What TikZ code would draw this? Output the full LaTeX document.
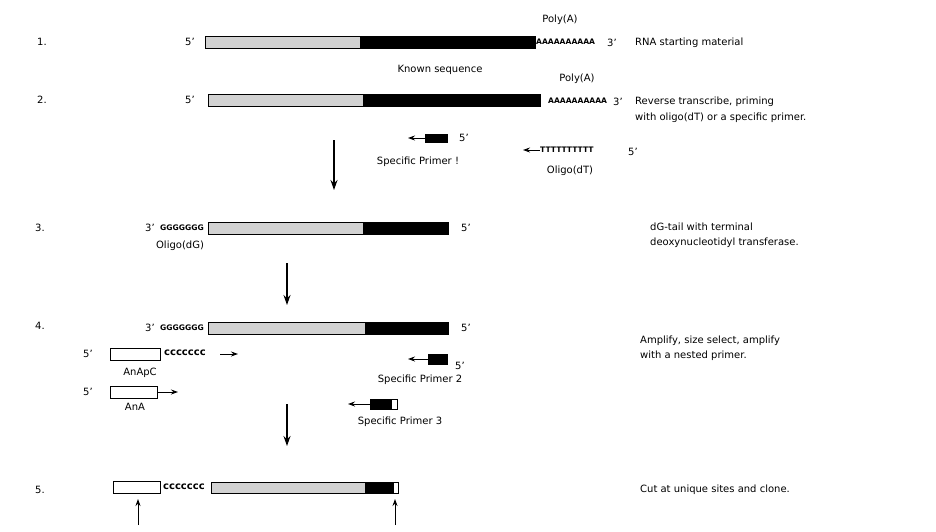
\documentclass[tikz,border=0pt]{standalone}
\usepackage{fontspec}
\setmainfont{DejaVu Sans}
\usetikzlibrary{arrows.meta}
\begin{document}
\begin{tikzpicture}[x=1pt,y=-1pt,
  t/.style={font=\fontsize{10}{12}\selectfont,inner sep=0pt},
  tl/.style={t,anchor=west},
  seq/.style={font=\fontsize{7.6}{9}\selectfont\bfseries,inner sep=0pt,anchor=west},
  cs/.style={font=\fontsize{10}{11}\selectfont\bfseries,inner sep=0pt,anchor=west},
  gr/.style={draw=black,fill=gray!35,line width=0.6pt},
  bk/.style={draw=black,fill=black},
  wh/.style={draw=black,fill=white,line width=0.7pt},
  arr/.style={-{Stealth[length=7pt,width=5pt]},line width=0.9pt},
  big/.style={-{Stealth[length=10pt,width=7pt]},line width=1.2pt}]
\useasboundingbox (0,0) rectangle (936,532);
% Row 1
\node[t] (n1) at (42,42) {1.};
\node[t] (p1) at (190,42) {5'};
\path[gr] (205,36) rectangle (360,48); \path[bk] (360,36) rectangle (535,48);
\node[seq] (a1) at (536,42) {AAAAAAAAAA};
\node[t] (q1) at (612,43) {3'};
\node[t] (pa1) at (560,20) {Poly(A)};
\node[t] (ks) at (440,70) {Known sequence};
\node[tl] (r1) at (635,43) {RNA starting material};
% Row 2
\node[t] (n2) at (42,100) {2.};
\node[t] (p2) at (190,100) {5'};
\path[gr] (208,94) rectangle (363,106); \path[bk] (363,94) rectangle (540,106);
\node[seq] (a2) at (548,101) {AAAAAAAAAA};
\node[t] (q2) at (618,102) {3'};
\node[t] (pa2) at (577,79) {Poly(A)};
\path[bk] (425,134) rectangle (447,142);
\coordinate (s1) at (425,138); \coordinate (s1e) at (408,138);
\draw[arr] (s1) -- (s1e);
\node[t] (f1) at (464,138) {5'};
\node[t] (sp1) at (418,162) {Specific Primer !};
\node[seq] (tt) at (540,150) {TTTTTTTTTT};
\coordinate (te) at (523,150);
\draw[arr] (tt.west) -- (te);
\node[t] (f2) at (633,152) {5'};
\node[t] (od) at (570,171) {Oligo(dT)};
\node[tl] (r2a) at (635,102) {Reverse transcribe, priming};
\node[tl] (r2b) at (635,118) {with oligo(dT) or a specific primer.};
\coordinate (d1a) at (334,140); \coordinate (d1b) at (334,190);
\draw[big] (d1a) -- (d1b);
% Row 3
\node[t] (n3) at (40,228) {3.};
\node[t] (q3) at (150,228) {3'};
\node[seq] (g3) at (160,228) {GGGGGGG};
\path[gr] (208,222) rectangle (363,234); \path[bk] (363,222) rectangle (448,234);
\node[t] (f3) at (466,228) {5'};
\node[t] (odg) at (180,246) {Oligo(dG)};
\node[tl] (r3a) at (650,227) {dG-tail with terminal};
\node[tl] (r3b) at (650,243) {deoxynucleotidyl transferase.};
\coordinate (d2a) at (287,263); \coordinate (d2b) at (287,305);
\draw[big] (d2a) -- (d2b);
% Row 4
\node[t] (n4) at (40,326) {4.};
\node[t] (q4) at (150,328) {3'};
\node[seq] (g4) at (160,328) {GGGGGGG};
\path[gr] (208,322) rectangle (365,334); \path[bk] (365,322) rectangle (448,334);
\node[t] (f4) at (466,328) {5'};
\node[t] (p4) at (88,354) {5'};
\path[wh] (110,348) rectangle (160,360);
\node[cs] (c4) at (164,353) {ccccccc};
\coordinate (c4a) at (220,354); \coordinate (c4b) at (238,354);
\draw[arr] (c4a) -- (c4b);
\node[t] (anapc) at (140,373) {AnApC};
\path[bk] (428,354) rectangle (447,364);
\coordinate (s2) at (428,359); \coordinate (s2e) at (408,359);
\draw[arr] (s2) -- (s2e);
\node[t] (f5) at (460,366) {5'};
\node[t] (sp2) at (420,380) {Specific Primer 2};
\node[t] (p5) at (88,392) {5'};
\path[wh] (110,386) rectangle (157,398);
\coordinate (aa) at (157,392); \coordinate (ab) at (178,392);
\draw[arr] (aa) -- (ab);
\node[t] (ana) at (135,407) {AnA};
\path[bk] (370,399) rectangle (391,409); \path[wh,line width=0.6pt] (391,399) rectangle (397,409);
\coordinate (s3) at (370,404); \coordinate (s3e) at (348,404);
\draw[arr] (s3) -- (s3e);
\node[t] (sp3) at (400,422) {Specific Primer 3};
\node[tl] (r4a) at (640,341) {Amplify, size select, amplify};
\node[tl] (r4b) at (640,356) {with a nested primer.};
\coordinate (d3a) at (287,404); \coordinate (d3b) at (287,446);
\draw[big] (d3a) -- (d3b);
% Row 5
\node[t] (n5) at (40,490) {5.};
\path[wh] (113,481) rectangle (160,493);
\node[cs] (c5) at (163,487) {ccccccc};
\path[gr] (211,482) rectangle (365,493); \path[bk] (365,482) rectangle (393,493);
\path[wh,line width=0.6pt] (393,482) rectangle (398,493);
\coordinate (u1a) at (138,525); \coordinate (u1b) at (138,499);
\coordinate (u2a) at (395,525); \coordinate (u2b) at (395,499);
\draw[arr] (u1a) -- (u1b); \draw[arr] (u2a) -- (u2b);
\node[tl] (r5) at (640,490) {Cut at unique sites and clone.};
\end{tikzpicture}
\end{document}
